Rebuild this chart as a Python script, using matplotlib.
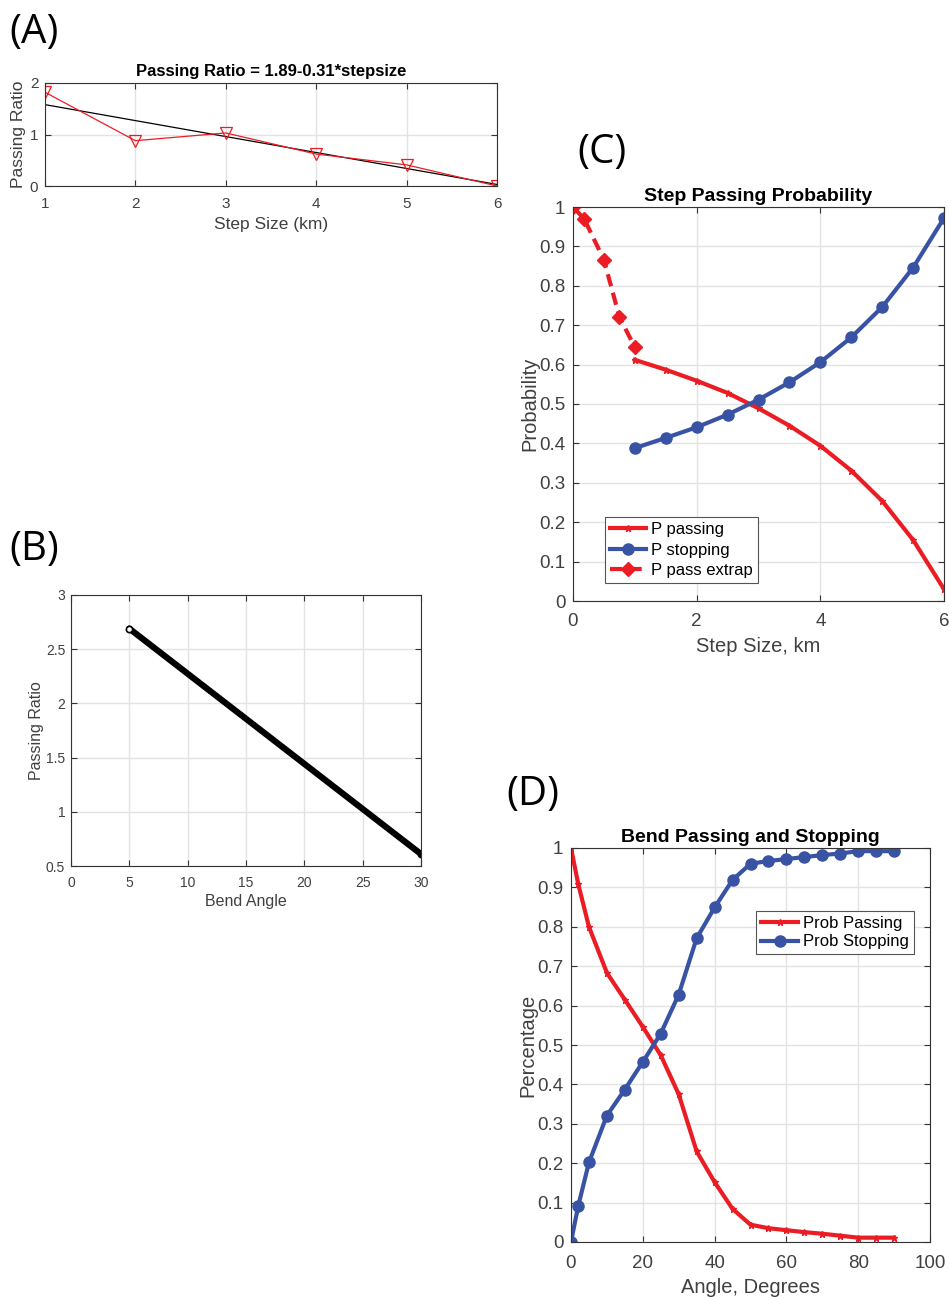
import matplotlib
matplotlib.use("Agg")
import matplotlib.pyplot as plt

plt.rcParams['font.family'] = ['Liberation Sans', 'DejaVu Sans']

# ---------------- data ----------------
# Panel A
stepA = [1, 2, 3, 4, 5, 6]
ratioA = [1.82, 0.88, 1.03, 0.62, 0.41, 0.0]
fitA = [1.58, 1.27, 0.96, 0.65, 0.34, 0.03]

# Panel B
bend_angle = [5, 30]
bend_ratio = [2.69, 0.61]

# Panel C
stepC = [1, 1.5, 2, 2.5, 3, 3.5, 4, 4.5, 5, 5.5, 6]
p_passing = [0.612, 0.587, 0.559, 0.528, 0.489, 0.445, 0.394, 0.331, 0.254, 0.155, 0.030]
p_stopping = [0.388, 0.414, 0.441, 0.473, 0.511, 0.555, 0.606, 0.669, 0.746, 0.846, 0.972]
step_extrap = [0, 0.18, 0.5, 0.75, 1]
p_extrap = [1.0, 0.970, 0.866, 0.721, 0.644]

# Panel D
angleD = [0, 2, 5, 10, 15, 20, 25, 30, 35, 40, 45, 50, 55, 60, 65, 70, 75, 80, 85, 90]
prob_passing = [1.0, 0.909, 0.80, 0.683, 0.615, 0.546, 0.474, 0.375, 0.230, 0.152,
                0.084, 0.044, 0.035, 0.030, 0.025, 0.021, 0.016, 0.011, 0.011, 0.011]
prob_stopping = [0.0, 0.091, 0.202, 0.321, 0.387, 0.457, 0.529, 0.628, 0.771, 0.849,
                 0.919, 0.960, 0.967, 0.972, 0.977, 0.982, 0.986, 0.992, 0.992, 0.992]

RED = '#ec1c24'
BLUE = '#3953a4'
TXT = '#404040'
W, H = 949, 1298

fig = plt.figure(figsize=(W / 100, H / 100), dpi=100)


def axpx(l, r, t, b):
    return fig.add_axes([l / W, 1 - b / H, (r - l) / W, (b - t) / H])


def style(ax, fs, pad):
    ax.grid(True, color='#e3e3e3', linewidth=1)
    ax.set_axisbelow(True)
    for s in ax.spines.values():
        s.set_color('#333333')
        s.set_linewidth(0.8)
    ax.tick_params(direction='in', top=True, right=True, labelsize=fs,
                   colors='#333333', labelcolor=TXT, length=4)
    ax.tick_params(axis='x', pad=pad)
    ax.tick_params(axis='y', pad=pad * 0.6)


# ---------------- Panel A ----------------
axA = axpx(45, 497, 83, 186)
axA.plot(stepA, fitA, color='black', lw=0.9)
axA.plot(stepA, ratioA, color=RED, lw=0.9, marker='v', ms=9, mfc='none', mec=RED, mew=0.9)
axA.set_xlim(1, 6)
axA.set_ylim(0, 2)
axA.set_xticks([1, 2, 3, 4, 5, 6])
axA.set_yticks([0, 1, 2])
style(axA, 11, 8)
axA.set_title('Passing Ratio = 1.89-0.31*stepsize', fontsize=12, fontweight='bold', pad=5)
axA.set_xlabel('Step Size (km)', fontsize=12.5, color=TXT, labelpad=4)
axA.set_ylabel('Passing Ratio', fontsize=12.5, color=TXT, labelpad=3)

# ---------------- Panel B ----------------
axB = axpx(71, 421, 595, 866)
axB.plot(bend_angle, bend_ratio, color='black', lw=4.5, solid_capstyle='round')
axB.plot(bend_angle[:1], bend_ratio[:1], 'o', color='black', ms=4.5, mfc='white', mew=1.2)
axB.plot(bend_angle[1:], bend_ratio[1:], 'o', color='black', ms=4.5, mew=1.2)
axB.set_xlim(0, 30)
axB.set_ylim(0.5, 3)
axB.set_xticks(range(0, 31, 5))
axB.set_yticks([0.5, 1, 1.5, 2, 2.5, 3])
axB.set_yticklabels(['0.5', '1', '1.5', '2', '2.5', '3'])
style(axB, 10, 7)
axB.set_xlabel('Bend Angle', fontsize=11.5, color=TXT, labelpad=3)
axB.set_ylabel('Passing Ratio', fontsize=11.5, color=TXT, labelpad=1)

# ---------------- Panel C ----------------
axC = axpx(573, 944, 207, 601)
axC.plot(stepC, p_passing, color=RED, lw=3, marker='*', ms=5, label='P passing')
axC.plot(stepC, p_stopping, color=BLUE, lw=3, marker='o', ms=8, label='P stopping')
axC.plot(step_extrap, p_extrap, color=RED, lw=3, ls=(0, (3, 1.6)), marker='D', ms=7,
         mfc=RED, mec=RED, label='P pass extrap')
axC.set_xlim(0, 6)
axC.set_ylim(0, 1)
axC.set_xticks([0, 2, 4, 6])
axC.set_yticks([i / 10 for i in range(11)])
axC.set_yticklabels(['0', '0.1', '0.2', '0.3', '0.4', '0.5', '0.6', '0.7', '0.8', '0.9', '1'])
style(axC, 13.5, 9)
axC.set_title('Step Passing Probability', fontsize=14, fontweight='bold', pad=4)
axC.set_xlabel('Step Size, km', fontsize=14.5, color=TXT, labelpad=5)
axC.set_ylabel('Probability', fontsize=14.5, color=TXT, labelpad=0)
legC = axC.legend(loc='lower left', bbox_to_anchor=(0.085, 0.045), fontsize=12,
                  frameon=True, fancybox=False, edgecolor='#555555', framealpha=1,
                  handlelength=2.2, handletextpad=0.3, borderpad=0.3, labelspacing=0.33,
                  borderaxespad=0)
legC.get_frame().set_linewidth(0.8)

# ---------------- Panel D ----------------
axD = axpx(571, 930, 848, 1242)
axD.plot(angleD, prob_passing, color=RED, lw=3, marker='*', ms=5, label='Prob Passing')
axD.plot(angleD, prob_stopping, color=BLUE, lw=3, marker='o', ms=8, label='Prob Stopping')
axD.set_xlim(0, 100)
axD.set_ylim(0, 1)
axD.set_xticks(range(0, 101, 20))
axD.set_yticks([i / 10 for i in range(11)])
axD.set_yticklabels(['0', '0.1', '0.2', '0.3', '0.4', '0.5', '0.6', '0.7', '0.8', '0.9', '1'])
style(axD, 13.5, 9)
axD.set_title('Bend Passing and Stopping', fontsize=14, fontweight='bold', pad=4)
axD.set_xlabel('Angle, Degrees', fontsize=14.5, color=TXT, labelpad=5)
axD.set_ylabel('Percentage', fontsize=14.5, color=TXT, labelpad=0)
legD = axD.legend(loc='upper right', bbox_to_anchor=(0.955, 0.84), fontsize=12,
                  frameon=True, fancybox=False, edgecolor='#555555', framealpha=1,
                  handlelength=2.2, handletextpad=0.3, borderpad=0.3, labelspacing=0.2,
                  borderaxespad=0)
legD.get_frame().set_linewidth(0.8)

# ---------------- Panel labels ----------------
for txt, x, y in [('(A)', 9, 33), ('(B)', 9, 550), ('(C)', 577, 153), ('(D)', 506, 795)]:
    fig.text(x / W, 1 - y / H, txt, fontsize=29, family=['Open Sans', 'DejaVu Sans'],
             va='center', ha='left', color='black')

fig.savefig('out.png', dpi=100)
